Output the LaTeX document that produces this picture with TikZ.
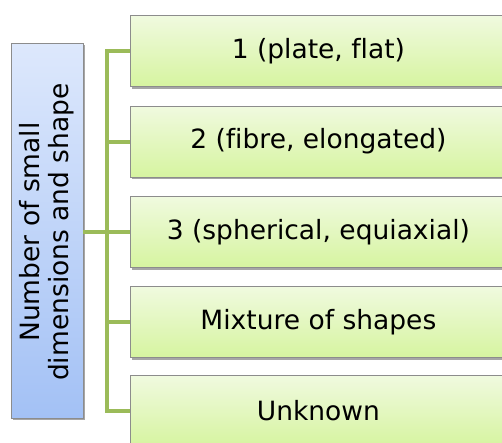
\documentclass[tikz,border=0pt]{standalone}
\usepackage{fontspec}
\setmainfont[Ligatures=NoCommon]{DejaVu Sans}
\usetikzlibrary{shadows}
\definecolor{linegreen}{HTML}{9BBB59}
\definecolor{gtop}{HTML}{F0FADF}
\definecolor{gbot}{HTML}{D6F4A0}
\definecolor{btop}{HTML}{DDE8FC}
\definecolor{bbot}{HTML}{A3C1F5}
\definecolor{edgegray}{HTML}{8C8C8C}
\tikzset{
  leafbox/.style={draw=edgegray, line width=0.8pt, top color=gtop, bottom color=gbot,
    minimum width=376pt, minimum height=71pt, inner sep=0pt,
    font=\fontsize{26.5}{30}\selectfont, anchor=west,
    drop shadow={shadow xshift=2pt, shadow yshift=-2pt, opacity=0.35, fill=black}},
  rootbox/.style={draw=edgegray, line width=0.8pt, top color=btop, bottom color=bbot,
    minimum width=72pt, minimum height=375pt, inner sep=0pt,
    drop shadow={shadow xshift=2pt, shadow yshift=-2pt, opacity=0.35, fill=black}},
  conn/.style={draw=linegreen, line width=4pt}
}
\begin{document}
\begin{tikzpicture}[x=1pt,y=-1pt]
\useasboundingbox (0,0) rectangle (502,442);
\node[rootbox] (root) at (47,230.5) {};
\node[rotate=90, align=center, font=\fontsize{26.5}{29}\selectfont] (roottext) at (47,232)
  {Number of small\\dimensions and shape};
\node[leafbox] (b1) at (130,51) {1 (plate, flat)};
\node[leafbox] (b2) at (130,141.5) {2 (fibre, elongated)};
\node[leafbox] (b3) at (130,232) {3 (spherical, equiaxial)};
\node[leafbox] (b4) at (130,322) {Mixture of shapes};
\node[leafbox] (b5) at (130,411) {Unknown};
\coordinate (top) at (107,51);
\coordinate (bot) at (107,411);
\coordinate (mid) at (107,232);
\draw[conn] (b1.west) -- (top) -- (bot) -- (b5.west);
\draw[conn] (root.east |- mid) -- (mid) -- (b3.west);
\draw[conn] (b2.west) -- (b2.west -| mid);
\draw[conn] (b4.west) -- (b4.west -| mid);
\end{tikzpicture}
\end{document}
